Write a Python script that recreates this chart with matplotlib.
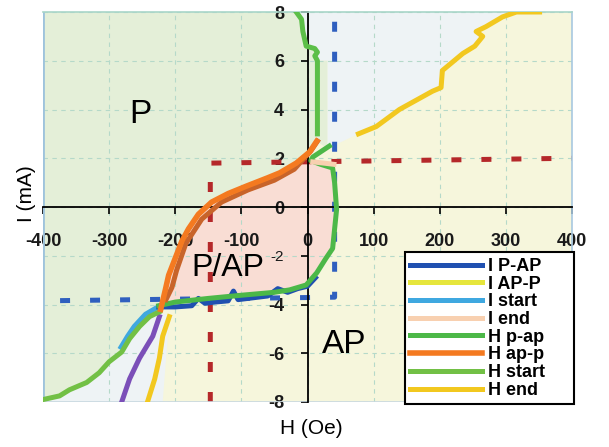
import matplotlib
matplotlib.use('Agg')
import matplotlib.pyplot as plt
from matplotlib.lines import Line2D

plt.rcParams['font.family'] = ['Liberation Sans', 'DejaVu Sans']
plt.rcParams['axes.unicode_minus'] = False

# H (Oe) / I (mA)
h_pap_top_h = [-17, -9, -7, -2, 11, 15, 11, 15, 15, 15]
h_pap_top_i = [8.0, 7.7, 7.2, 6.6, 6.5, 6.35, 6.2, 6.0, 4.4, 3.0]

h_pap_loop_h = [33, 8, 5, 20, 38, 41, 44, 41, 38, 28, 14, -2, -27, -50, -100, -150, -200, -225]
h_pap_loop_i = [2.5, 2.05, 1.9, 1.75, 1.6, 1.0, -0.1, -0.9, -1.7, -2.1, -2.7, -3.2, -3.4, -3.5, -3.62, -3.75, -3.9, -4.05]

h_app_h = [-222, -215, -210, -200, -190, -180, -165, -145, -120, -92, -60, -42, -17, 3, 14]
h_app_i = [-4.2, -3.4, -2.8, -2.1, -1.4, -0.9, -0.3, 0.2, 0.55, 0.86, 1.2, 1.4, 1.8, 2.25, 2.7]

brown_h = [-214, -205, -198, -184, -160, -130, -90, -50, -20, 5, 15]
brown_i = [-3.8, -3.3, -2.6, -1.5, -0.5, 0.2, 0.7, 1.1, 1.55, 2.3, 2.7]

h_start_h = [-224, -239, -254, -269, -281, -300, -315, -334, -360, -375, -400]
h_start_i = [-4.3, -4.5, -4.9, -5.4, -5.95, -6.35, -6.8, -7.2, -7.5, -7.75, -7.9]

i_start_h = [-226, -245, -262, -272, -282]
i_start_i = [-4.1, -4.4, -4.9, -5.3, -5.75]

i_pap_h = [-225, -200, -175, -165, -155, -140, -120, -112, -105, -90, -60, -45, -30, -15, 0, 12]
i_pap_i = [-4.1, -4.1, -4.05, -3.75, -3.95, -3.9, -3.85, -3.45, -3.8, -3.75, -3.65, -3.35, -3.5, -3.35, -3.25, -2.9]

purple_h = [-224, -234, -254, -269, -281]
purple_i = [-4.5, -5.3, -6.2, -7.05, -8.0]

h_end_low_h = [-209, -219, -224, -231, -242]
h_end_low_i = [-4.5, -5.3, -6.2, -7.05, -8.0]

h_end_h = [77, 104, 139, 189, 202, 204, 235, 253, 265, 255, 270, 295, 316, 351]
h_end_i = [3.0, 3.3, 4.0, 4.75, 4.9, 5.6, 6.3, 6.6, 7.0, 7.2, 7.4, 7.8, 8.0, 8.0]

i_end_h = [8, 25, 40]
i_end_i = [1.85, 1.8, 1.75]

red_dash_h = [-147, -147, 400]
red_dash_i = [-8, 1.8, 2.0]

blue_dash_h = [41, 41, -400]
blue_dash_i = [7.6, -3.7, -3.85]

# region edges
p_edge_h = [30, 30]
p_edge_i = [6.0, 2.4]
ap_low_edge_h = [-219, -209]
ap_low_edge_i = [-8, -4.5]

x_ticks = [-400, -300, -200, -100, 0, 100, 200, 300, 400]
y_ticks = [-8, -6, -4, -2, 0, 2, 4, 6, 8]

fig = plt.figure(figsize=(6.09, 4.47), dpi=100)
ax = fig.add_axes([43 / 609, 45 / 447, 529 / 609, 390 / 447])
ax.set_xlim(-400, 400)
ax.set_ylim(-8, 8)

# background regions
ax.fill([-400, 400, 400, -400], [-8, -8, 8, 8], color='#f6f6dc', lw=0, zorder=0.1)

blue_h = [-17, 351] + h_end_h[::-1] + p_edge_h[::-1] + h_pap_top_h[::-1][2:]
blue_i = [8, 8] + h_end_i[::-1] + p_edge_i[::-1] + h_pap_top_i[::-1][2:]
ax.fill(blue_h, blue_i, color='#eef3f5', lw=0, zorder=0.2)

p_h = [-400] + h_pap_top_h[:8] + p_edge_h + h_app_h[::-1] + h_start_h
p_i = [8] + h_pap_top_i[:8] + p_edge_i + h_app_i[::-1] + h_start_i
ax.fill(p_h, p_i, color='#e4efd8', lw=0, zorder=0.2)

pink_h = h_app_h[:-1] + h_pap_loop_h[2:]
pink_i = h_app_i[:-1] + h_pap_loop_i[2:]
ax.fill(pink_h, pink_i, color='#f9ddd4', lw=0, zorder=0.2)

low_h = h_start_h + [-400] + ap_low_edge_h
low_i = h_start_i + [-8] + ap_low_edge_i
ax.fill(low_h, low_i, color='#eef3f5', lw=0, zorder=0.2)

ax.set_axisbelow(True)
ax.grid(True, ls=(0, (4, 4)), color='#b5d9c9', lw=0.8)

# dashed guides
ax.plot(red_dash_h, red_dash_i, color='#b5282a', lw=3.6, dashes=(2.0, 4.0),
        dash_capstyle='butt', zorder=2.2)
ax.plot(blue_dash_h, blue_dash_i, color='#2f5fbf', lw=3.6, dashes=(2.0, 4.0),
        dash_capstyle='butt', zorder=2.2)

lw = 3.6
l_istart, = ax.plot(i_start_h, i_start_i, color='#3fa8e0', lw=lw, zorder=3)
ax.plot(purple_h, purple_i, color='#7b4fb8', lw=lw, zorder=3)
l_hend, = ax.plot(h_end_h, h_end_i, color='#f2c81f', lw=lw, zorder=3)
ax.plot(h_end_low_h, h_end_low_i, color='#f2c81f', lw=lw, zorder=3)
l_ipap, = ax.plot(i_pap_h, i_pap_i, color='#2050b0', lw=lw, zorder=3)
l_hstart, = ax.plot(h_start_h, h_start_i, color='#72c045', lw=lw, zorder=3.1)
l_hpap, = ax.plot(h_pap_loop_h, h_pap_loop_i, color='#4cb848', lw=lw, zorder=3.2)
ax.plot(h_pap_top_h, h_pap_top_i, color='#5cbf48', lw=lw, zorder=3.2)
l_iend, = ax.plot(i_end_h, i_end_i, color='#f8d0b0', lw=lw, zorder=3.3)
ax.plot(brown_h, brown_i, color='#c8642a', lw=lw, zorder=3.3)
l_happ, = ax.plot(h_app_h, h_app_i, color='#f47a20', lw=4.0, zorder=3.4)

# axes through zero
ax.spines['left'].set_position(('data', 0))
ax.spines['bottom'].set_position(('data', 0))
for s in ['left', 'bottom']:
    ax.spines[s].set_color('black')
    ax.spines[s].set_linewidth(1.3)
    ax.spines[s].set_zorder(2.5)
ax.spines['top'].set_color('#a8d5c8')
ax.spines['right'].set_color('#a8c8e0')
ax.spines['top'].set_linewidth(1.2)
ax.spines['right'].set_linewidth(1.2)
ax.axvline(-400, color='#9ec3dc', lw=2.0, zorder=2.4)
ax.axhline(-8, color='#c8d8e0', lw=1.2, zorder=2.4)

ax.set_xticks(x_ticks)
ax.set_yticks(y_ticks)
ax.set_xticklabels([str(v) for v in x_ticks])
ax.set_yticklabels([str(v) for v in y_ticks])
ax.tick_params(axis='x', direction='out', length=5, width=1.2, pad=14,
               labelsize=13, labelcolor='#1a1a1a')
ax.tick_params(axis='y', direction='out', length=5, width=1.2, pad=12,
               labelsize=13, labelcolor='#1a1a1a')
for t in ax.get_xticklabels() + ax.get_yticklabels():
    t.set_fontweight('bold')
# the -2 label sits next to the P/AP text and looks smaller there
ax.get_yticklabels()[3].set_fontsize(11)
ax.get_yticklabels()[3].set_fontweight('normal')

# region labels
ax.text(-253, 3.8, 'P', fontsize=24, ha='center', va='center', zorder=4)
ax.text(56, -5.65, 'AP', fontsize=24, ha='center', va='center', zorder=4)
ax.text(-121, -2.5, 'P/AP', fontsize=23, ha='center', va='center', zorder=4)

fig.text(27 / 609, 1 - 194 / 447, 'I (mA)', rotation=90, ha='center', va='center', fontsize=15)
fig.text(311 / 609, 1 - 428 / 447, 'H (Oe)', ha='center', va='center', fontsize=15)

l_iapp = Line2D([], [], color='#e6e63c', lw=lw)
handles = [l_ipap, l_iapp, l_istart, l_iend, l_hpap, l_happ, l_hstart, l_hend]
labels = ['I P-AP', 'I AP-P', 'I start', 'I end', 'H p-ap', 'H ap-p', 'H start', 'H end']
leg = ax.legend(handles, labels, loc='lower left', mode='expand',
                bbox_to_anchor=(0.684, -0.006, 0.319, 0.39),
                frameon=True, fancybox=False, edgecolor='black', framealpha=1,
                prop={'size': 13, 'weight': 'bold'}, handlelength=4.0,
                handletextpad=0.3, labelspacing=0.04, borderpad=0.3, borderaxespad=0)
leg.get_frame().set_linewidth(1.5)
leg.set_zorder(6)

fig.savefig('out.png', dpi=100)
